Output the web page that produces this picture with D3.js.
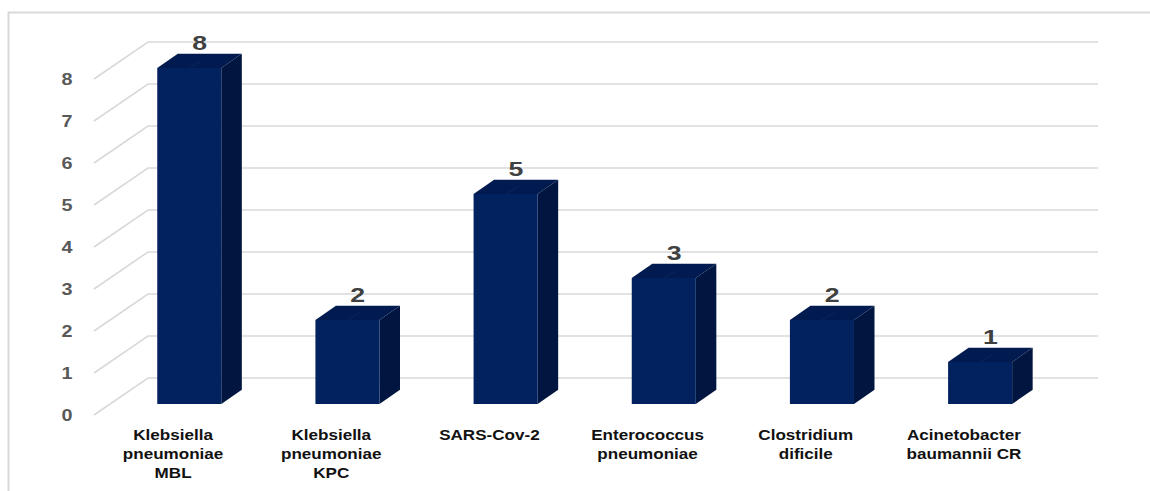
<!DOCTYPE html>
<html>
<head>
<meta charset="utf-8">
<script src="https://cdn.jsdelivr.net/npm/d3@7"></script>
<style>
  html, body { margin: 0; padding: 0; background: #fff; }
  svg { display: block; }
  text { font-family: "Liberation Sans", Arial, sans-serif; font-weight: bold; }
</style>
</head>
<body>
<svg id="chart" width="1150" height="491"></svg>
<script>
// Category labels, split into the lines they are printed on
const categoryLines = [
  ["Klebsiella", "pneumoniae", "MBL"],
  ["Klebsiella", "pneumoniae", "KPC"],
  ["SARS-Cov-2"],
  ["Enterococcus", "pneumoniae"],
  ["Clostridium", "dificile"],
  ["Acinetobacter", "baumannii CR"]
];
const categories = categoryLines.map(l => l.join(" "));
const cases = [8, 2, 5, 3, 2, 1];
const yTicks = [0, 1, 2, 3, 4, 5, 6, 7, 8];

const svg = d3.select("#chart");

// Oblique 3D projection: depth 0 = front edge of floor, 1 = back wall
const depthVec = [54, -37];
const floorFrontY = 415;
const proj = (x, h, z) => [x + depthVec[0] * z, floorFrontY + depthVec[1] * z - h];
const barFrontZ = 0.3, barBackZ = 0.68;

// Scales
const x = d3.scaleBand()
  .domain(categories)
  .range([94, 1043])
  .paddingInner(0.595)
  .paddingOuter(0.2975);
const y = d3.scaleLinear().domain([0, 8]).range([0, 336]);

const colors = { front: "#01215f", top: "#011a4f", side: "#00153f", grid: "#d9d9d9" };

// Chart area border
svg.append("rect")
  .attr("x", 8.5).attr("y", 12.5)
  .attr("width", 1300).attr("height", 600)
  .attr("fill", "none")
  .attr("stroke", colors.grid)
  .attr("stroke-width", 2);

// Gridlines: diagonal along the floor side, then across the back wall
const [x0] = x.range();
const xEnd = 1098;
const grid = svg.append("g");
yTicks.forEach(t => {
  const a = proj(x0, y(t), 0);
  const b = proj(x0, y(t), 1);
  grid.append("path")
    .attr("d", `M${a[0]},${a[1]}L${b[0]},${b[1]}L${xEnd},${b[1]}`)
    .attr("fill", "none")
    .attr("stroke", colors.grid)
    .attr("stroke-width", 1.6);
});

// Value axis labels
svg.append("g").selectAll("text")
  .data(yTicks)
  .join("text")
  .attr("transform", d => `translate(67,${proj(x0, y(d), 0)[1] + 6}) scale(1.2,1)`)
  .attr("text-anchor", "middle")
  .attr("font-size", 16.5)
  .attr("fill", "#595959")
  .text(d => d);

// Bars
const bw = x.bandwidth();
const bars = svg.append("g").selectAll("g")
  .data(categories.map((c, i) => ({ c, v: cases[i] })))
  .join("g");

bars.each(function (d) {
  const g = d3.select(this);
  const xl = x(d.c), xr = xl + bw, h = y(d.v);
  const fbl = proj(xl, 0, barFrontZ), fbr = proj(xr, 0, barFrontZ);
  const ftl = proj(xl, h, barFrontZ), ftr = proj(xr, h, barFrontZ);
  const btl = proj(xl, h, barBackZ), btr = proj(xr, h, barBackZ);
  const bbr = proj(xr, 0, barBackZ);
  const pts = p => p.map(q => q.join(",")).join(" ");
  g.append("polygon").attr("points", pts([fbr, ftr, btr, bbr])).attr("fill", colors.side);
  g.append("polygon").attr("points", pts([ftl, btl, btr, ftr])).attr("fill", colors.top);
  g.append("polygon").attr("points", pts([fbl, ftl, ftr, fbr])).attr("fill", colors.front);
  // faint ridge across the top face
  const fm = proj(xl + bw / 2, h, barFrontZ), bm = proj(xl + bw / 2, h, (barFrontZ + barBackZ) / 2);
  g.append("line")
    .attr("x1", fm[0]).attr("y1", fm[1]).attr("x2", bm[0] + 2).attr("y2", bm[1])
    .attr("stroke", "#0a2a6a").attr("stroke-width", 0.8);
  // value label
  const lab = proj(xl + bw / 2, h, (barFrontZ + barBackZ) / 2);
  g.append("text")
    .attr("transform", `translate(${lab[0]},${proj(xl, h, barBackZ)[1] - 4}) scale(1.3,1)`)
    .attr("text-anchor", "middle")
    .attr("font-size", 20.5)
    .attr("fill", "#404040")
    .text(d.v);
});

// Category labels under each band
const labels = svg.append("g").selectAll("g")
  .data(categories.map((c, i) => ({ c, lines: categoryLines[i] })))
  .join("g");
labels.each(function (d) {
  const cx = x(d.c) + bw / 2;
  d3.select(this).selectAll("text")
    .data(d.lines)
    .join("text")
    .attr("transform", (l, i) => `translate(${cx},${440 + i * 19}) scale(1.22,1)`)
    .attr("text-anchor", "middle")
    .attr("font-size", 14)
    .attr("fill", "#111")
    .text(l => l);
});
</script>
</body>
</html>
